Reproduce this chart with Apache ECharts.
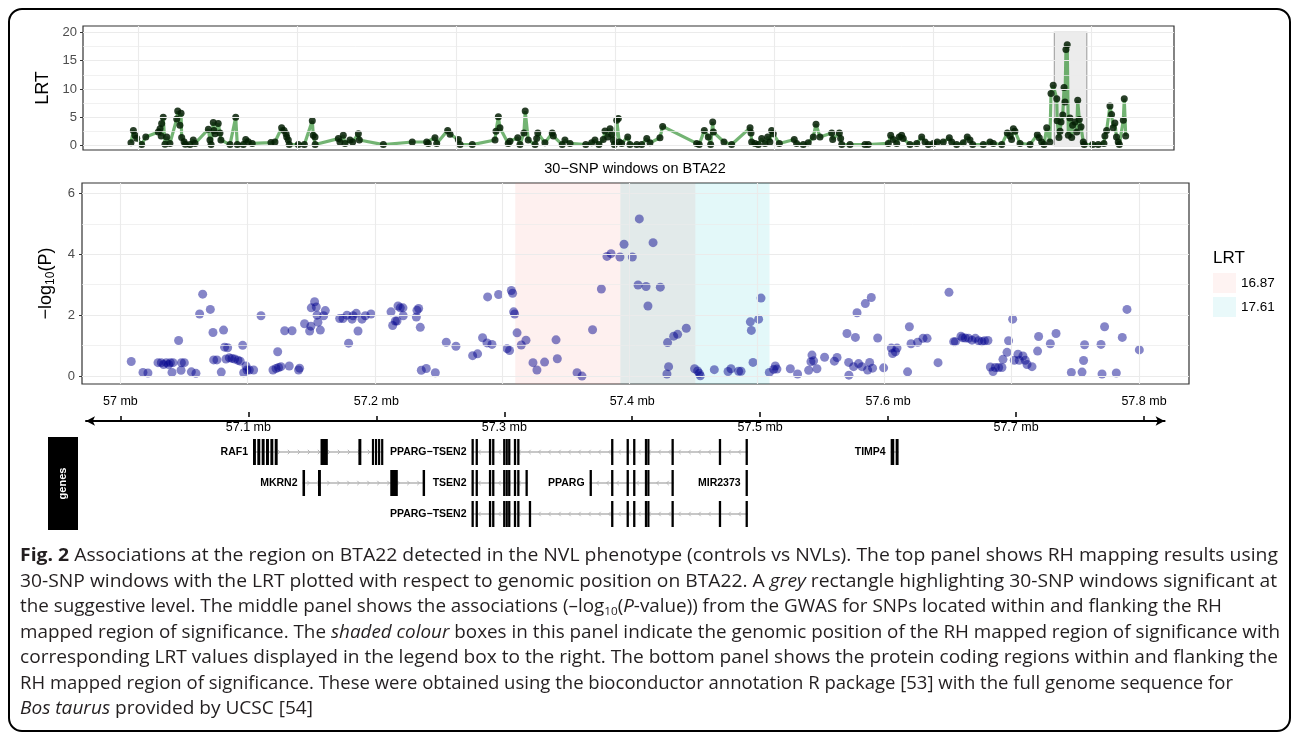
<!DOCTYPE html>
<html><head><meta charset="utf-8">
<script src="https://cdn.jsdelivr.net/npm/echarts@6/dist/echarts.min.js"></script>
<style>html,body{margin:0;padding:0;background:#fff}#c{width:1295px;height:733px}</style>
</head><body><div id="c"></div>
<script>
// ---------------- TOP PANEL: RH mapping, 30-SNP windows ----------------
const topPos = [9.54,9.69,9.79,9.90,10.21,10.47,11.26,11.37,11.44,11.47,11.57,11.68,11.79,11.99,12.42,12.48,12.62,12.69,12.73,12.88,12.96,13.25,13.46,13.57,14.41,14.51,14.58,14.72,14.76,14.83,15.03,15.14,15.20,15.77,16.13,16.23,16.61,16.76,16.92,17.17,18.35,18.60,19.02,19.17,19.30,19.34,19.44,19.50,20.07,20.45,20.95,21.01,21.12,21.13,22.59,22.69,22.90,23.01,23.32,23.49,23.85,23.91,25.42,27.24,28.15,28.25,28.67,28.78,29.47,29.62,30.14,30.25,31.02,32.45,32.51,32.66,32.76,33.28,33.39,33.88,34.02,34.27,34.35,34.54,34.97,35.07,35.14,35.59,36.05,36.12,36.68,36.85,37.17,38.16,38.53,38.74,38.99,39.26,39.37,39.54,39.69,39.79,39.89,39.96,40.11,40.21,40.27,40.42,40.80,40.94,41.37,41.68,42.00,42.20,42.83,43.00,45.14,45.30,45.62,45.87,46.02,46.15,46.19,46.86,47.34,48.50,48.56,48.60,48.81,49.02,49.23,49.44,49.61,49.75,49.86,49.96,50.34,51.28,51.43,51.85,52.16,52.48,52.65,52.90,53.64,53.70,54.12,54.20,54.27,54.79,55.73,55.94,57.20,57.35,57.51,57.73,57.89,58.04,58.14,58.56,58.99,59.30,59.51,59.72,60.03,60.28,60.66,61.04,61.19,61.50,61.92,62.17,62.34,62.51,63.18,63.60,63.81,64.34,64.69,64.86,64.96,65.07,65.17,65.49,66.12,66.58,66.70,66.85,67.00,67.17,67.37,67.44,67.58,67.80,67.83,67.94,68.01,68.07,68.18,68.26,68.32,68.38,68.46,68.53,68.63,68.74,68.80,68.95,69.06,69.12,69.22,69.33,69.47,69.53,70.06,70.41,70.77,70.83,70.94,71.15,71.25,71.35,71.46,71.56,71.67,71.74,71.99,72.05,72.14];
const topLRT = [0.5,2.7,1.85,1.3,0.2,1.55,2.4,3.0,1.7,3.9,5.0,0.25,1.55,0.4,4.7,6.1,3.6,5.7,1.45,0.7,0.25,0.2,1.0,0.4,2.9,1.0,0.2,4.1,2.7,2.1,3.9,2.25,1.0,0.2,5.0,0.2,0.2,1.1,0.7,0.4,0.55,0.65,3.15,2.7,2.1,1.55,1.0,0.2,0.2,0.2,4.4,1.85,1.55,0.2,1.25,0.65,1.85,0.4,1.0,0.65,2.1,1.0,0.2,0.65,0.65,0.4,1.4,0.4,2.7,2.0,1.1,0.2,0.2,1.0,2.55,5.1,3.15,0.4,0.8,1.4,0.2,2.25,6.1,1.0,0.2,1.25,2.25,0.5,2.25,1.7,0.2,1.0,0.4,0.2,0.5,1.0,0.2,1.1,2.6,1.55,3.0,2.0,1.0,0.2,4.5,4.8,0.65,0.4,1.55,0.2,0.2,0.2,1.25,0.5,1.4,3.4,0.4,0.2,2.7,1.55,0.2,4.2,2.4,0.65,0.2,3.15,2.25,0.65,0.4,0.2,1.25,0.4,1.55,0.65,2.7,2.1,0.4,1.1,0.4,0.2,0.5,1.55,3.8,1.55,2.25,1.1,2.25,1.25,0.2,0.2,0.2,0.2,0.4,1.85,1.1,0.4,1.55,1.85,1.25,0.2,0.4,1.55,0.65,0.2,0.4,0.65,0.65,1.4,0.65,0.2,0.5,1.55,1.0,0.2,0.2,0.65,0.4,0.2,2.25,1.7,1.1,3.0,2.55,0.4,0.2,1.95,1.4,0.65,0.2,3.15,0.65,9.2,10.65,8.3,4.4,1.45,2.55,4.2,5.4,10.25,7.7,16.95,17.8,1.85,4.9,1.45,3.6,4.2,2.4,8.0,4.6,3.35,0.65,0.2,0.2,0.2,0.4,1.7,2.7,7.0,5.5,3.15,4.0,1.55,0.65,0.2,4.5,8.3,1.7];
const topGridX = [10,20,30,40,50,60,70];
const topGridY = [0,2.5,5,7.5,10,12.5,15,17.5,20];
const topYTicks = [0,5,10,15,20];
const sigWindowX = [67.65,69.69];
const sigWindowY = [0,20];

// ---------------- MIDDLE PANEL: GWAS -log10(P) ----------------
const gwasPos = [57.0086,57.0178,57.0217,57.0296,57.0322,57.0340,57.0361,57.0380,57.0393,57.0406,57.0414,57.0458,57.0477,57.0480,57.0503,57.0558,57.0594,57.0623,57.0647,57.0707,57.0728,57.0733,57.0759,57.0793,57.0811,57.0819,57.0830,57.0843,57.0856,57.0877,57.0898,57.0924,57.0942,57.0961,57.0969,57.0987,57.0995,57.1013,57.1047,57.1105,57.1199,57.1223,57.1236,57.1243,57.1262,57.1291,57.1327,57.1349,57.1400,57.1408,57.1447,57.1487,57.1497,57.1500,57.1526,57.1539,57.1545,57.1552,57.1571,57.1597,57.1610,57.1723,57.1749,57.1780,57.1793,57.1820,57.1828,57.1853,57.1867,57.1898,57.1924,57.1969,57.2126,57.2139,57.2160,57.2173,57.2181,57.2199,57.2220,57.2222,57.2325,57.2330,57.2343,57.2356,57.2364,57.2403,57.2474,57.2560,57.2636,57.2767,57.2806,57.2845,57.2880,57.2885,57.2919,57.2971,57.3037,57.3057,57.3071,57.3081,57.3089,57.3097,57.3116,57.3149,57.3186,57.3241,57.3272,57.3332,57.3422,57.3432,57.3587,57.3626,57.3709,57.3778,57.3822,57.3854,57.3924,57.3956,57.4021,57.4066,57.4076,57.4129,57.4144,57.4184,57.4241,57.4293,57.4298,57.4306,57.4346,57.4377,57.4445,57.4510,57.4534,57.4547,57.4555,57.4665,57.4773,57.4796,57.4856,57.4875,57.4948,57.4956,57.4969,57.5013,57.5032,57.5097,57.5131,57.5144,57.5157,57.5262,57.5319,57.5406,57.5424,57.5432,57.5445,57.5471,57.5531,57.5608,57.5629,57.5707,57.5720,57.5722,57.5759,57.5773,57.5786,57.5798,57.5825,57.5851,57.5869,57.5885,57.5898,57.5908,57.5948,57.5995,57.6055,57.6065,57.6087,57.6100,57.6183,57.6197,57.6210,57.6262,57.6304,57.6336,57.6422,57.6508,57.6545,57.6558,57.6602,57.6615,57.6636,57.6662,57.6689,57.6715,57.6741,57.6767,57.6787,57.6814,57.6833,57.6854,57.6872,57.6898,57.6924,57.6932,57.6964,57.6976,57.7008,57.7021,57.7050,57.7060,57.7089,57.7107,57.7121,57.7160,57.7204,57.7212,57.7304,57.7349,57.7469,57.7553,57.7565,57.7573,57.7702,57.7710,57.7730,57.7822,57.7869,57.7906,57.8003];
const gwasLogP = [0.48,0.12,0.10,0.44,0.44,0.38,0.44,0.38,0.44,0.12,0.44,1.17,0.19,0.44,0.44,0.14,0.09,2.04,2.69,2.19,1.43,0.53,0.53,0.13,1.51,0.95,0.56,0.93,0.60,0.58,0.56,0.52,0.49,1.01,0.11,0.33,0.20,0.20,0.20,1.98,0.20,0.25,0.80,0.28,0.31,1.49,0.33,1.49,0.20,0.26,1.72,1.48,1.64,2.24,2.44,2.27,2.00,1.77,1.51,1.98,2.15,1.89,1.89,2.00,1.08,1.87,1.98,2.06,1.48,1.87,1.98,2.04,2.11,1.66,1.81,1.81,2.30,2.24,2.24,1.98,1.94,2.16,2.22,1.60,0.19,0.25,0.11,1.11,0.98,0.67,0.73,1.26,1.09,2.60,1.04,2.68,0.90,0.84,2.81,2.72,2.11,2.04,1.42,1.02,1.18,0.44,0.20,0.46,1.19,0.57,0.11,0.00,1.52,2.86,3.93,4.02,3.91,4.33,3.91,2.99,5.16,2.94,2.30,4.38,2.92,0.07,1.10,0.31,1.31,1.37,1.57,0.24,0.17,0.09,0.01,0.21,0.15,0.24,0.16,0.16,1.78,1.50,0.45,1.87,2.56,0.12,0.22,0.33,0.23,0.24,0.07,0.19,0.47,0.69,0.50,0.24,0.62,0.49,0.61,1.40,0.45,0.03,0.31,1.27,2.08,0.41,0.31,2.38,0.20,0.45,2.58,0.26,1.25,0.27,0.92,0.74,0.80,0.92,0.14,1.62,1.06,1.11,1.24,1.24,0.44,2.75,1.13,1.13,1.31,1.26,1.25,1.24,1.18,1.24,1.16,1.13,1.16,1.17,0.30,0.15,0.28,0.28,0.28,0.55,0.78,1.16,1.87,0.52,0.72,0.52,0.66,0.52,0.38,0.31,0.82,1.30,1.06,1.40,0.12,0.13,0.51,1.03,1.04,0.07,1.62,0.10,1.27,2.19,0.86];
const midGridX = [57.0,57.1,57.2,57.3,57.4,57.5,57.6,57.7,57.8];
const midGridY = [0,1,2,3,4,5,6];
const midYTicks = [0,2,4,6];
const lrtLabels = ['16.87','17.61'];
const lrtRegions = [[57.3102,57.4516],[57.3927,57.5099]];
const lrtColors = ['rgba(248,118,109,0.11)','rgba(0,191,196,0.11)'];

// ---------------- BOTTOM PANEL: genes ----------------
const geneNames = ['RAF1','MKRN2','PPARG\u2212TSEN2','TSEN2','PPARG','MIR2373','PPARG\u2212TSEN2','TIMP4'];
const geneRows = [1,2,1,2,2,2,3,1];
const geneStrand = [1,1,-1,-1,-1,-1,-1,-1];
const geneExons = [
  [[57.1036,57.1059],[57.1070,57.1093],[57.1104,57.1127],[57.1138,57.1161],[57.1172,57.1195],[57.1206,57.1229],[57.1564,57.1621],[57.1860,57.1883],[57.1966,57.1982],[57.1990,57.2006],[57.2014,57.2030],[57.2038,57.2054]],
  [[57.1423,57.1443],[57.1544,57.1567],[57.2109,57.2168],[57.2362,57.2381]],
  [[57.2744,57.2762],[57.2776,57.2794],[57.2880,57.2898],[57.2905,57.2923],[57.2991,57.3009],[57.3011,57.3028],[57.3030,57.3048],[57.3075,57.3093],[57.3101,57.3119],[57.3835,57.3853],[57.3956,57.3974],[57.4007,57.4025],[57.4099,57.4116],[57.4118,57.4135],[57.4307,57.4325],[57.4677,57.4695],[57.4886,57.4904]],
  [[57.2744,57.2762],[57.2776,57.2794],[57.2880,57.2898],[57.2905,57.2923],[57.2991,57.3009],[57.3011,57.3028],[57.3030,57.3048],[57.3075,57.3093],[57.3101,57.3119],[57.3166,57.3184]],
  [[57.3667,57.3685],[57.3835,57.3853],[57.3956,57.3974],[57.4007,57.4025],[57.4099,57.4116],[57.4118,57.4135],[57.4307,57.4325]],
  [[57.4886,57.4904]],
  [[57.2744,57.2762],[57.2776,57.2794],[57.2880,57.2898],[57.2905,57.2923],[57.2991,57.3009],[57.3011,57.3028],[57.3030,57.3048],[57.3075,57.3093],[57.3101,57.3119],[57.3192,57.3210],[57.3835,57.3853],[57.3956,57.3974],[57.4007,57.4025],[57.4099,57.4116],[57.4118,57.4135],[57.4307,57.4325],[57.4677,57.4695],[57.4886,57.4904]],
  [[57.6020,57.6048],[57.6059,57.6082]]
];
const geneAxisMajor = [57.0,57.2,57.4,57.6,57.8];
const geneAxisMinor = [57.1,57.3,57.5,57.7];

// ---------------- caption ----------------
const captionLines = [
  '{b|Fig. 2} Associations at the region on BTA22 detected in the NVL phenotype (controls vs NVLs). The top panel shows RH mapping results using',
  '30-SNP windows with the LRT plotted with respect to genomic position on BTA22. A {i|grey} rectangle highlighting 30-SNP windows significant at',
  'the suggestive level. The middle panel shows the associations (\u2013log{s|10}({i|P}-value)) from the GWAS for SNPs located within and flanking the RH',
  'mapped region of significance. The {i|shaded colour} boxes in this panel indicate the genomic position of the RH mapped region of significance with',
  'corresponding LRT values displayed in the legend box to the right. The bottom panel shows the protein coding regions within and flanking the',
  'RH mapped region of significance. These were obtained using the bioconductor annotation R package [53] with the full genome sequence for',
  '{i|Bos taurus} provided by UCSC [54]'
];
const captionRight = [1278, 1277, 1222, 1280, 1278, 1233, 313];

// ================= build =================
const FONT = '"Liberation Sans", Arial, Helvetica, sans-serif';
const CAPFONT = '"Open Sans", "Noto Sans", sans-serif';
const CAPFS = 18.4;
const GRID = '#ebebeb';
const topData = topPos.map((x, i) => [x, topLRT[i]]);
const gwasData = gwasPos.map((x, i) => [x, gwasLogP[i]]);

function hLines(vals, majorStep) {
  return vals.map(v => ({ yAxis: v, lineStyle: { color: GRID, width: (Math.abs(v / majorStep - Math.round(v / majorStep)) < 1e-6) ? 1.1 : 0.7, type: 'solid' } }));
}
function vLines(vals) {
  return vals.map(v => ({ xAxis: v, lineStyle: { color: GRID, width: 1.1, type: 'solid' } }));
}
const mlBase = { silent: true, symbol: ['none', 'none'], label: { show: false }, animation: false };

function renderGene(params, api) {
  const i = api.value(2);
  const ex = geneExons[i];
  const row = geneRows[i];
  const p0 = api.coord([ex[0][0], row]);
  const p1 = api.coord([ex[ex.length - 1][1], row]);
  const y = p0[1], x0 = p0[0], x1 = p1[0];
  const h = 26;
  const children = [];
  if (x1 - x0 > 4) {
    children.push({ type: 'line', shape: { x1: x0, y1: y, x2: x1, y2: y }, style: { stroke: '#b5b5b5', lineWidth: 1.3 } });
    const d = geneStrand[i];
    for (let x = x0 + 7; x < x1 - 4; x += 10) {
      children.push({ type: 'polyline', shape: { points: [[x - 2.2 * d, y - 2.2], [x, y], [x - 2.2 * d, y + 2.2]] }, style: { stroke: '#b5b5b5', lineWidth: 1, fill: null } });
    }
  }
  ex.forEach(e => {
    const a = api.coord([e[0], row])[0], b = api.coord([e[1], row])[0];
    const w = Math.max(2.2, b - a);
    children.push({ type: 'rect', shape: { x: (a + b) / 2 - w / 2, y: y - h / 2, width: w, height: h }, style: { fill: '#000' } });
  });
  children.push({ type: 'text', style: { text: geneNames[i], x: x0 - 5, y: y, align: 'right', verticalAlign: 'middle', font: 'bold 10.5px ' + FONT, fill: '#000' } });
  return { type: 'group', children };
}

// caption layout: fit each line to the measured width of the original
const mctx = document.createElement('canvas').getContext('2d');
function captionWidth(t) {
  let w = 0;
  const re = /\{([a-z])\|([^}]*)\}|([^{]+)/g; let m;
  while ((m = re.exec(t))) {
    if (m[3]) { mctx.font = CAPFS + 'px ' + CAPFONT; w += mctx.measureText(m[3]).width; }
    else {
      const tag = m[1];
      mctx.font = (tag === 'b' ? 'bold ' : tag === 'i' ? 'italic ' : '') + (tag === 's' ? 11.5 : CAPFS) + 'px ' + CAPFONT;
      w += mctx.measureText(m[2]).width;
    }
  }
  return w;
}
const capRich = {
  b: { fontFamily: CAPFONT, fontSize: CAPFS, fontWeight: 'bold', fill: '#231f20', lineHeight: 22 },
  i: { fontFamily: CAPFONT, fontSize: CAPFS, fontStyle: 'italic', fill: '#231f20', lineHeight: 22 },
  s: { fontFamily: CAPFONT, fontSize: 11.5, fill: '#231f20', lineHeight: 11, verticalAlign: 'bottom' }
};
const capY = [556, 581.5, 607, 632.5, 658, 683.5, 709];
const captionGraphics = captionLines.map((t, k) => {
  const w = captionWidth(t);
  let sx = (captionRight[k] - 20) / w;
  if (!isFinite(sx)) sx = 1;
  sx = Math.max(0.85, Math.min(1.15, sx));
  return {
    type: 'text', x: 20, y: capY[k], scaleX: sx,
    style: { text: t, rich: capRich, fontFamily: CAPFONT, fontSize: CAPFS, fill: '#231f20', lineHeight: 22, verticalAlign: 'middle', align: 'left' }
  };
});

const option = {
  animation: false,
  textStyle: { fontFamily: FONT },
  grid: [
    { left: 83, top: 26, width: 1091, height: 124, show: true, borderColor: '#333', borderWidth: 1.2, backgroundColor: '#fff', containLabel: false },
    { left: 82, top: 183, width: 1107, height: 201, show: true, borderColor: '#333', borderWidth: 1.2, backgroundColor: '#fff', containLabel: false },
    { left: 86, top: 412, width: 1078.6, height: 118, show: false, containLabel: false }
  ],
  xAxis: [
    { gridIndex: 0, type: 'value', min: 6.52, max: 75.18, axisLine: { show: false }, axisTick: { show: false }, axisLabel: { show: false }, splitLine: { show: false } },
    { gridIndex: 1, type: 'value', min: 56.96992, max: 57.8393, axisLine: { show: false }, axisTick: { show: false }, axisLabel: { show: false }, splitLine: { show: false } },
    { gridIndex: 2, type: 'value', position: 'top', offset: 0, min: 56.9731, max: 57.8161,
      axisLine: { show: true, symbol: ['arrow', 'arrow'], symbolSize: [7, 9], lineStyle: { color: '#000', width: 2 } },
      axisTick: { show: true, customValues: geneAxisMajor, length: 5, lineStyle: { color: '#000', width: 1.5 } },
      axisLabel: { show: true, customValues: geneAxisMajor, margin: 4, fontSize: 12.5, color: '#000', formatter: v => (+v.toFixed(1)) + ' mb' },
      splitLine: { show: false } },
    { gridIndex: 2, type: 'value', position: 'top', offset: 0, min: 56.9731, max: 57.8161,
      axisLine: { show: false },
      axisTick: { show: true, inside: true, customValues: geneAxisMinor, length: 5, lineStyle: { color: '#000', width: 1.5 } },
      axisLabel: { show: true, inside: true, customValues: geneAxisMinor, margin: 9, fontSize: 12.5, color: '#000', formatter: v => (+v.toFixed(1)) + ' mb' },
      splitLine: { show: false } }
  ],
  yAxis: [
    { gridIndex: 0, type: 'value', min: -0.76, max: 21.11,
      name: 'LRT', nameLocation: 'middle', nameRotate: 90, nameGap: 23, nameTextStyle: { fontSize: 18, color: '#000' },
      axisLine: { show: false }, axisTick: { show: true, customValues: topYTicks, length: 3, lineStyle: { color: '#333' } },
      axisLabel: { customValues: topYTicks, margin: 6, fontSize: 13, color: '#4d4d4d' }, splitLine: { show: false } },
    { gridIndex: 1, type: 'value', min: -0.26, max: 6.34,
      name: '{a|\u2212log}{s|10}{a|(P)}', nameLocation: 'middle', nameRotate: 90, nameGap: 21,
      nameTextStyle: { rich: { a: { fontSize: 18, color: '#000', lineHeight: 22, fontFamily: FONT }, s: { fontSize: 12, color: '#000', lineHeight: 12, verticalAlign: 'bottom', fontFamily: FONT } } },
      axisLine: { show: false }, axisTick: { show: true, customValues: midYTicks, length: 3, lineStyle: { color: '#333' } },
      axisLabel: { customValues: midYTicks, margin: 7, fontSize: 13, color: '#4d4d4d' }, splitLine: { show: false } },
    { gridIndex: 2, type: 'value', min: -0.2903, max: 3.516, inverse: true, show: false }
  ],
  legend: {
    data: lrtLabels, orient: 'vertical', left: 1213, top: 273, padding: 0, itemWidth: 23, itemHeight: 20, itemGap: 4,
    icon: 'rect', textStyle: { fontSize: 13.5, color: '#000', fontFamily: FONT }, selectedMode: false
  },
  series: [
    { type: 'line', xAxisIndex: 0, yAxisIndex: 0, data: [], z: 1,
      markLine: Object.assign({}, mlBase, { data: hLines(topGridY, 5).concat(vLines(topGridX)) }),
      markArea: { silent: true, itemStyle: { color: 'rgba(195,195,195,0.32)', borderColor: '#a8a8a8', borderWidth: 1.2 },
        data: [[{ xAxis: sigWindowX[0], yAxis: sigWindowY[0] }, { xAxis: sigWindowX[1], yAxis: sigWindowY[1] }]] } },
    { type: 'line', name: 'LRT', xAxisIndex: 0, yAxisIndex: 0, data: topData, z: 3,
      symbol: 'circle', symbolSize: 7, showSymbol: true,
      lineStyle: { color: 'rgba(40,140,40,0.65)', width: 3.2 },
      itemStyle: { color: 'rgba(5,30,5,0.85)', borderWidth: 0 } },
    { type: 'line', xAxisIndex: 1, yAxisIndex: 1, data: [], z: 1,
      markLine: Object.assign({}, mlBase, { data: hLines(midGridY, 2).concat(vLines(midGridX)) }) },
    { type: 'scatter', name: lrtLabels[0], xAxisIndex: 1, yAxisIndex: 1, data: [], z: 2, itemStyle: { color: lrtColors[0] },
      markArea: { silent: true, itemStyle: { color: lrtColors[0] }, data: [[{ xAxis: lrtRegions[0][0] }, { xAxis: lrtRegions[0][1] }]] } },
    { type: 'scatter', name: lrtLabels[1], xAxisIndex: 1, yAxisIndex: 1, data: [], z: 2, itemStyle: { color: lrtColors[1] },
      markArea: { silent: true, itemStyle: { color: lrtColors[1] }, data: [[{ xAxis: lrtRegions[1][0] }, { xAxis: lrtRegions[1][1] }]] } },
    { type: 'scatter', name: 'GWAS', xAxisIndex: 1, yAxisIndex: 1, data: gwasData, z: 4, symbolSize: 9,
      itemStyle: { color: 'rgba(0,0,139,0.6)', borderWidth: 0 } },
    { type: 'custom', xAxisIndex: 2, yAxisIndex: 2, renderItem: renderGene, clip: false,
      encode: { x: 0, y: 1 },
      data: geneNames.map((n, i) => [geneExons[i][0][0], geneRows[i], i]) }
  ],
  graphic: [
    { type: 'rect', shape: { x: 9, y: 9, width: 1281, height: 722, r: 13 }, style: { fill: null, stroke: '#000', lineWidth: 2 }, z: 100 },
    { type: 'text', x: 635, y: 169, style: { text: '30\u2212SNP windows on BTA22', font: '14.5px ' + FONT, fill: '#000', align: 'center', verticalAlign: 'middle' } },
    { type: 'text', x: 1213, y: 258, style: { text: 'LRT', font: '17px ' + FONT, fill: '#000', align: 'left', verticalAlign: 'middle' } },
    { type: 'rect', shape: { x: 48, y: 437, width: 30, height: 93 }, style: { fill: '#000' } },
    { type: 'text', x: 63, y: 483.5, rotation: Math.PI / 2, style: { text: 'genes', font: 'bold 11px ' + FONT, fill: '#fff', align: 'center', verticalAlign: 'middle' } }
  ].concat(captionGraphics)
};

const chart = echarts.init(document.getElementById('c'));
chart.setOption(option);
</script>
</body></html>
